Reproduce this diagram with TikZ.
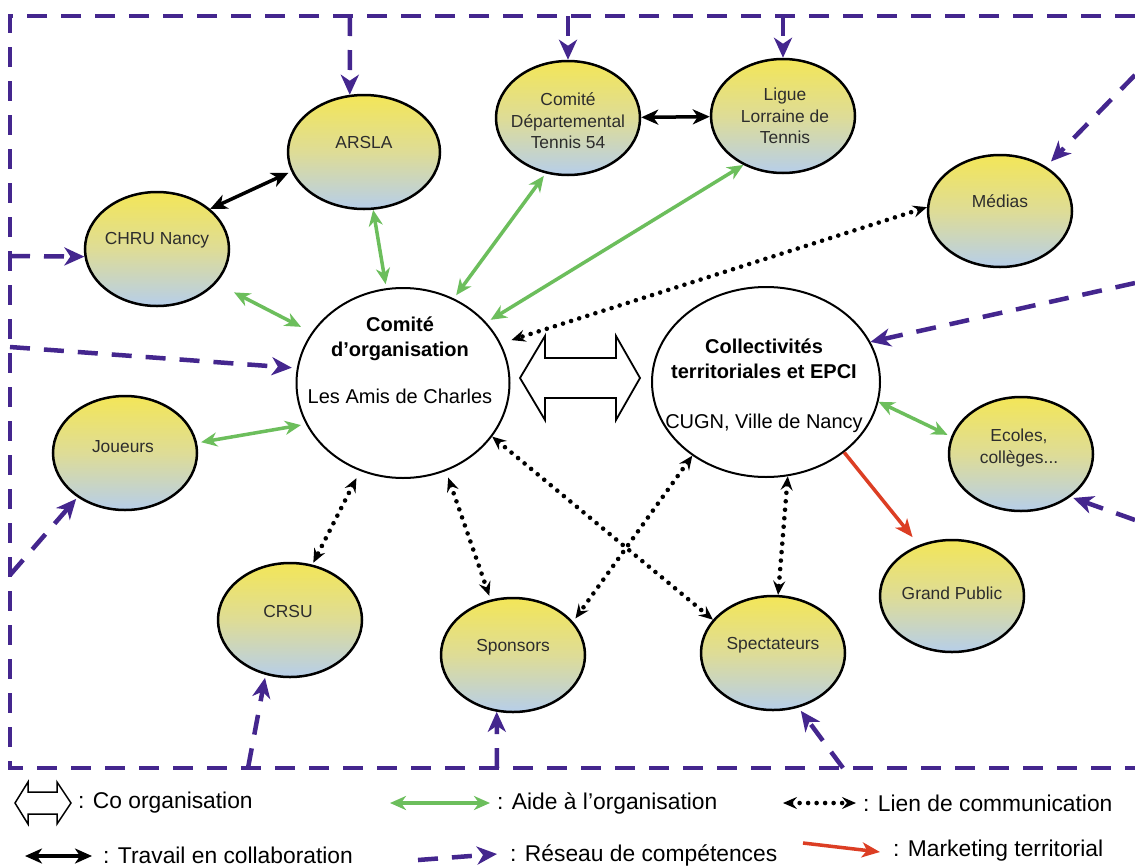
\documentclass[tikz,border=0pt]{standalone}
\usepackage{fontspec}
\setmainfont{Liberation Sans}
\usetikzlibrary{arrows.meta,shapes.geometric}
\definecolor{prp}{RGB}{68,38,142}
\definecolor{grn}{RGB}{108,190,92}
\definecolor{rd}{RGB}{220,62,36}
\definecolor{yl}{RGB}{243,230,88}
\definecolor{md}{RGB}{222,220,150}
\definecolor{bl}{RGB}{182,206,234}
\definecolor{txt}{RGB}{45,45,45}
\tikzset{
  ent/.style={ellipse, draw=black, line width=2.5pt, minimum width=144pt, minimum height=114pt,
    inner sep=0pt, top color=yl, bottom color=bl, middle color=md},
  mainent/.style={ellipse, draw=black, line width=2pt, fill=white, inner sep=0pt},
  lbl/.style={font=\fontsize{17.4}{21.5}\selectfont, text=txt, align=center, inner sep=0pt},
  mainlbl/.style={font=\fontsize{20}{25}\selectfont, text=black, align=center, inner sep=0pt},
  leg/.style={font=\fontsize{22.8}{26}\selectfont, text=black, anchor=west, inner sep=0pt},
  gtip/.tip={Stealth[length=16pt,width=14pt,inset=5pt]},
  ktip/.tip={Stealth[length=17pt,width=15pt,inset=5pt]},
  dtip/.tip={Stealth[length=14pt,width=12pt,inset=5pt]},
  ptip/.tip={Stealth[length=20pt,width=18pt,inset=6pt]},
  aide/.style={draw=grn, line width=3.5pt, gtip-gtip},
  collab/.style={draw=black, line width=3.5pt, ktip-ktip},
  comm/.style={draw=black, line width=4.6pt, dash pattern=on 0pt off 8.5pt, line cap=round, dtip-dtip},
  reseau/.style={draw=prp, line width=4.5pt, dash pattern=on 20pt off 14pt, -ptip},
  border/.style={draw=prp, line width=4.5pt, dash pattern=on 20pt off 14pt},
  mkt/.style={draw=rd, line width=3.5pt, -{Stealth[length=18pt,width=15pt,inset=5pt]}},
  coop/.style={draw=black, line width=1.8pt, fill=white, line join=miter},
}
\begin{document}
\begin{tikzpicture}[x=1pt,y=-1pt]
\path[use as bounding box, fill=white] (0,0) rectangle (1135,865);

% ---- border of the network
\coordinate (bTR) at (1135,16);
\coordinate (bTL) at (10,16);
\coordinate (bBL) at (10,768);
\coordinate (bBR) at (1135,768);
\draw[border] (bTR) -- (bTL) -- (bBL) -- (bBR);

% ---- entities
\node[ent] (chru) at (157,249) {};
\node[ent, minimum width=152pt] (arsla) at (364,152) {};
\node[ent] (cd) at (568,118) {};
\node[ent] (ligue) at (783,116) {};
\node[ent, minimum height=112pt] (medias) at (1000,211) {};
\node[ent] (joueurs) at (125,453) {};
\node[ent] (ecoles) at (1021,454) {};
\node[ent, minimum height=112pt] (gp) at (952,596) {};
\node[ent] (crsu) at (290,620) {};
\node[ent] (sponsors) at (513,655) {};
\node[ent] (spect) at (773,653) {};
\node[mainent, minimum width=213pt, minimum height=190pt] (comorg) at (403,383) {};
\node[mainent, minimum width=228pt, minimum height=190pt] (coll) at (766,382) {};

\node[lbl, yshift=9pt] (chru-t) at (chru) {CHRU Nancy};
\node[lbl, yshift=9pt] (arsla-t) at (arsla) {ARSLA};
\node[lbl, yshift=-3pt] (cd-t) at (cd) {Comité\\Départemental\\Tennis 54};
\node[lbl, xshift=2pt] (ligue-t) at (ligue) {Ligue\\Lorraine de\\Tennis};
\node[lbl, yshift=10pt] (medias-t) at (medias) {Médias};
\node[lbl, yshift=6pt, xshift=-2pt] (joueurs-t) at (joueurs) {Joueurs};
\node[lbl, yshift=6pt, xshift=-2pt] (ecoles-t) at (ecoles) {Ecoles,\\collèges...};
\node[lbl, yshift=3pt] (gp-t) at (gp) {Grand Public};
\node[lbl, yshift=8pt, xshift=-2pt] (crsu-t) at (crsu) {CRSU};
\node[lbl, yshift=8pt] (sponsors-t) at (sponsors) {Sponsors};
\node[lbl, yshift=8pt] (spect-t) at (spect) {Spectateurs};

\node[mainlbl] (comorg-t) at (400,360) {\textbf{Comité}\\\textbf{d’organisation}\\[22pt]Les Amis de Charles};
\node[mainlbl] (coll-t) at (764,386) {\textbf{Collectivités}\\\textbf{territoriales et EPCI}\\[25pt]CUGN, Ville de Nancy};

% ---- co-organisation arrow
\coordinate (coarrow) at (580,378);
\draw[coop, shift={(coarrow)}] (-60,0) -- (-35,-42) -- (-35,-20) -- (36,-20) -- (36,-42) -- (60,0)
  -- (36,42) -- (36,20) -- (-35,20) -- (-35,42) -- cycle;

% ---- aide a l'organisation
\draw[aide, shorten >=4pt] (arsla.-81) -- (comorg.100);
\draw[aide, shorten <=20pt, shorten >=12pt] (chru.-30) -- (comorg.151);
\draw[aide, shorten <=3pt, shorten >=4pt] (cd.-112) -- (comorg.59);
\draw[aide, shorten >=5pt] (ligue.-129) -- (comorg.36);
\draw[aide, shorten <=4pt, shorten >=5pt] (joueurs.8) -- (comorg.-157);
\draw[aide, shorten >=4pt] (coll.-10) -- (ecoles.166);

% ---- travail en collaboration
\draw[collab, shorten >=3pt] (chru.37) -- (arsla.-165);
\draw[collab] (cd) -- (ligue);

% ---- lien de communication
\draw[comm, shorten >=11pt] (medias.177) -- (comorg.22);
\draw[comm, shorten <=8pt, shorten >=2pt] (comorg.-116) -- (crsu.68);
\draw[comm, shorten <=7pt, shorten >=4pt] (comorg.-64) -- (sponsors.112);
\draw[comm] (comorg.-31.5) -- (spect.151);
\draw[comm, shorten >=4pt] (coll.-135) -- (sponsors.29);
\draw[comm] (coll.-77) -- (spect.85);

% ---- marketing territorial
\draw[mkt, shorten >=10pt] (coll.-42) -- (gp.123.5);

% ---- reseau de competences
\coordinate (jArsla) at (350,16);
\coordinate (jCd) at (568,16);
\coordinate (jLigue) at (783,16);
\coordinate (jChru) at (10,256);
\coordinate (jOrg) at (10,347);
\coordinate (jJoueurs) at (10,575);
\coordinate (jMedias) at (1135,75);
\coordinate (jColl) at (1135,283);
\coordinate (jEcoles) at (1135,520);
\coordinate (jCrsu) at (248,768);
\coordinate (jSponsors) at (497,768);
\coordinate (jSpect) at (843,768);
\draw[reseau] (jArsla) -- (arsla.104);
\draw[reseau] (jCd) -- (cd.north);
\draw[reseau] (jLigue) -- (ligue.north);
\draw[reseau] (jChru) -- (chru.-174);
\draw[reseau, shorten >=5pt] (jOrg) -- (comorg.172);
\draw[reseau, shorten >=2pt] (jJoueurs) -- (joueurs.-137);
\draw[reseau, shorten >=7pt] (jMedias) -- (medias.44);
\draw[reseau] (jColl) -- (coll.21);
\draw[reseau, shorten >=3pt] (jEcoles) -- (ecoles.-41);
\draw[reseau, shorten >=3pt] (jCrsu) -- (crsu.-114);
\draw[reseau] (jSponsors) -- (sponsors.-106);
\draw[reseau, shorten >=4pt] (jSpect) -- (spect.-65);

% ---- legend
\coordinate (lCo) at (43,803);
\draw[coop, line width=1.5pt, shift={(lCo)}] (-28,0) -- (-15,-21) -- (-15,-11) -- (14,-11) -- (14,-21) -- (28,0)
  -- (14,21) -- (14,11) -- (-15,11) -- (-15,21) -- cycle;
\node[leg] (lCo-t) at (78,803) {: Co organisation};

\coordinate (lA1) at (390,803);
\coordinate (lA2) at (490,803);
\draw[aide] (lA1) -- (lA2);
\node[leg] (lA-t) at (497,803) {: Aide à l’organisation};

\coordinate (lL1) at (783,803);
\coordinate (lL2) at (856,803);
\draw[comm] (lL1) -- (lL2);
\node[leg] (lL-t) at (863,803) {: Lien de communication};

\coordinate (lT1) at (25,856);
\coordinate (lT2) at (92,856);
\draw[collab] (lT1) -- (lT2);
\node[leg] (lT-t) at (103,855) {: Travail en collaboration};

\coordinate (lR1) at (418,860);
\coordinate (lR2) at (497,854);
\draw[reseau] (lR1) -- (lR2);
\node[leg] (lR-t) at (510,855) {: Réseau de compétences};

\coordinate (lM1) at (803,843);
\coordinate (lM2) at (880,852);
\draw[mkt] (lM1) -- (lM2);
\node[leg] (lM-t) at (893,851) {: Marketing territorial};
\end{tikzpicture}
\end{document}
